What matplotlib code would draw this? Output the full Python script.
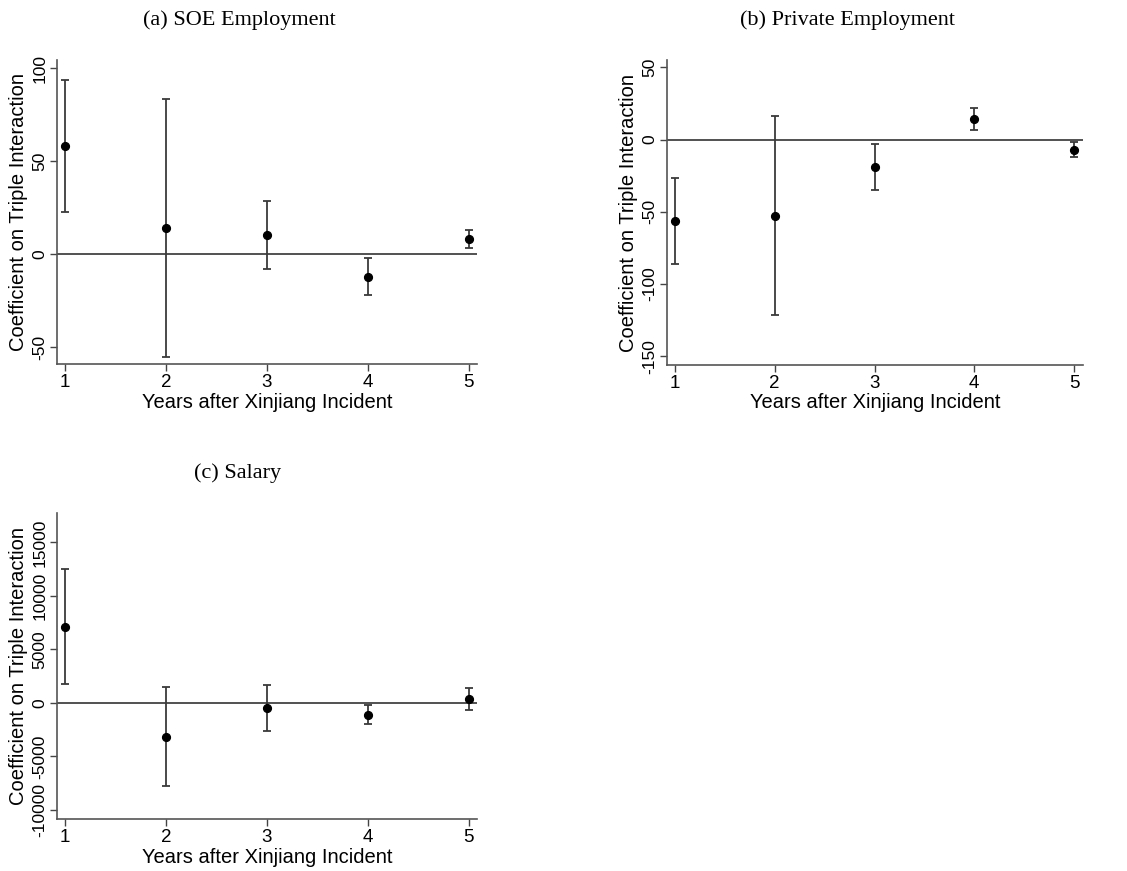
import matplotlib
matplotlib.use("Agg")
import matplotlib.pyplot as plt
import numpy as np

# ---------------------------------------------------------------------------
# Data
# ---------------------------------------------------------------------------
years = [1, 2, 3, 4, 5]

soe_coef = [58.1, 14.0, 10.2, -12.4, 8.1]
soe_lo = [22.4, -55.2, -7.9, -22.2, 3.4]
soe_hi = [93.7, 83.2, 28.3, -2.2, 13.1]

priv_coef = [-56.2, -52.8, -18.9, 14.3, -7.1]
priv_lo = [-86.4, -121.7, -34.8, 6.7, -12.2]
priv_hi = [-26.5, 16.4, -2.8, 21.7, -1.8]

sal_coef = [7138, -3148, -468, -1091, 374]
sal_lo = [1777, -7793, -2650, -1964, -655]
sal_hi = [12500, 1465, 1683, -218, 1403]

soe_ticks = [-50, 0, 50, 100]
priv_ticks = [-150, -100, -50, 0, 50]
sal_ticks = [-10000, -5000, 0, 5000, 10000, 15000]

# ---------------------------------------------------------------------------
# Figure
# ---------------------------------------------------------------------------
W, H = 1127, 871
fig = plt.figure(figsize=(W / 100, H / 100), dpi=100)
fig.patch.set_facecolor("white")

SANS = "Liberation Sans"
SERIF = "Liberation Serif"


def panel(box, coef, lo, hi, yticks, ylim, xlim, title, title_xy):
    # box = (left, top, right, bottom) in pixels
    l, t, r, b = box
    ax = fig.add_axes([l / W, 1 - b / H, (r - l) / W, (b - t) / H])
    coef = np.asarray(coef, dtype=float)
    err = np.vstack([coef - np.asarray(lo), np.asarray(hi) - coef])
    ax.axhline(0, color="#222222", lw=1.1, zorder=1)
    ax.errorbar(years, coef, yerr=err, fmt="none", ecolor="#3a3a3a",
                elinewidth=1.3, capsize=3, capthick=1.3, zorder=2)
    ax.plot(years, coef, "o", color="black", markersize=5.6, zorder=3)

    ax.set_xlim(*xlim)
    ax.set_ylim(*ylim)
    ax.set_xticks(years)
    ax.set_yticks(yticks)
    ax.set_xticklabels([str(y) for y in years], fontfamily=SANS, fontsize=13.5)
    ax.set_yticklabels([str(t) for t in yticks], fontfamily=SANS, fontsize=12.5,
                       rotation=90, va="center")
    ax.tick_params(axis="both", direction="out", length=5, width=1,
                   color="#444444", pad=2)
    for side in ("top", "right"):
        ax.spines[side].set_visible(False)
    for side in ("left", "bottom"):
        ax.spines[side].set_color("#555555")
        ax.spines[side].set_linewidth(1.2)

    ax.set_xlabel("Years after Xinjiang Incident", fontfamily=SANS,
                  fontsize=14.5, va="center")
    ax.set_ylabel("Coefficient on Triple Interaction", fontfamily=SANS,
                  fontsize=14.5, va="center")
    # label centres: 38 px below / 39 px left of the axes
    ax.xaxis.set_label_coords(0.5, -38 / (b - t))
    ax.yaxis.set_label_coords(-39 / (r - l), 0.5)
    fig.text(title_xy[0] / W, 1 - title_xy[1] / H, title, fontfamily=SERIF,
             fontsize=16, ha="center", va="center")
    return ax


# (a) SOE Employment
panel((57, 60, 477, 364), soe_coef, soe_lo, soe_hi,
      soe_ticks, (-59.1, 104.3), (0.92, 5.08),
      "(a) SOE Employment", (239, 20))

# (b) Private Employment
panel((667, 60, 1083, 365), priv_coef, priv_lo, priv_hi,
      priv_ticks, (-156, 55.1), (0.92, 5.09),
      "(b) Private Employment", (847, 20))

# (c) Salary
panel((57, 513, 477, 819), sal_coef, sal_lo, sal_hi,
      sal_ticks, (-10842, 17743), (0.92, 5.08),
      "(c) Salary", (238, 473))

fig.savefig("out.png", dpi=100)
